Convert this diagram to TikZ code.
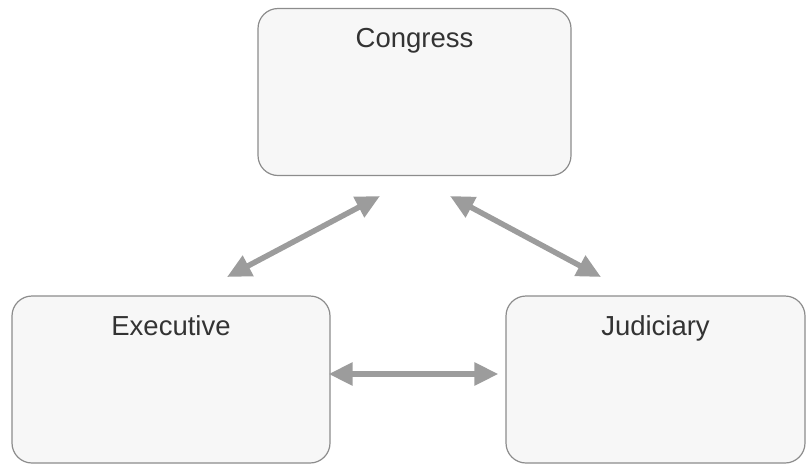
\documentclass[tikz,border=0pt]{standalone}
\usepackage{fontspec}
\setmainfont{Liberation Sans}
\usetikzlibrary{arrows.meta}

\definecolor{boxline}{HTML}{8C8C8C}
\definecolor{boxfill}{HTML}{F7F7F7}
\definecolor{linkgray}{HTML}{9C9C9C}
\definecolor{labelgray}{HTML}{333333}

\tikzset{
  branch/.style={draw=boxline, line width=1.2pt, fill=boxfill, rounded corners=20pt,
    inner xsep=0pt, inner ysep=0pt, text height=39pt, text depth=128pt,
    text=labelgray, font=\fontsize{27.5}{32}\selectfont},
  link/.style={draw=linkgray, line width=5.5pt,
    {Triangle[width=22pt,length=24pt]}-{Triangle[width=22pt,length=24pt]}}
}

\begin{document}
\begin{tikzpicture}[x=1pt,y=-1pt]
  \useasboundingbox (0,0) rectangle (806,464);
  % the three branches
  \node[branch, minimum width=313pt] (con) at (414.5,92) {Congress};
  \node[branch, minimum width=318pt] (exe) at (171,379.5) {Executive};
  \node[branch, minimum width=299pt] (jud) at (655.5,379.5) {Judiciary};
  % arrow ends
  \coordinate (ce) at (380,196);
  \coordinate (ec) at (227,277);
  \coordinate (cj) at (450,196);
  \coordinate (jc) at (601,277);
  \draw[link] (ec) -- (ce);
  \draw[link] (cj) -- (jc);
  \draw[link] ([xshift=-2pt]exe.east |- 0,374) -- ([xshift=-7pt]jud.west |- 0,374);
\end{tikzpicture}
\end{document}
